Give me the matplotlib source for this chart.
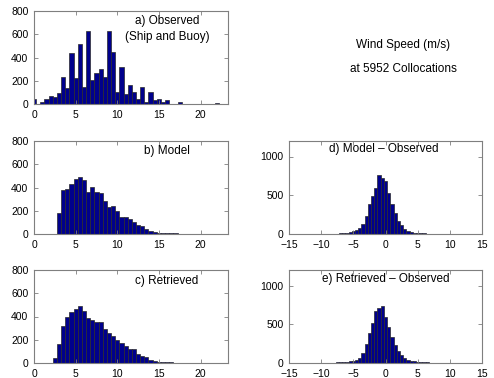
import numpy as np
import matplotlib
matplotlib.use("Agg")
import matplotlib.pyplot as plt

plt.rcParams['font.family'] = ['Liberation Sans', 'DejaVu Sans']

# ---- data (bin centres, counts) ----
obs_centers = [0.0, 0.5, 1.0, 1.5, 2.0, 2.5, 3.0, 3.5, 4.0, 4.5, 5.0, 5.5, 6.0, 6.5, 7.0, 7.5,
               8.0, 8.5, 9.0, 9.5, 10.0, 10.5, 11.0, 11.5, 12.0, 12.5, 13.0, 13.5, 14.0, 14.5,
               15.0, 15.5, 16.0, 16.5, 17.0, 17.5, 22.0]
obs_counts = [40, 0, 20, 40, 65, 60, 95, 230, 135, 435, 220, 515, 150, 630, 210, 265,
              300, 230, 625, 445, 100, 315, 90, 160, 105, 45, 150, 20, 105, 35,
              45, 15, 35, 0, 0, 15, 10]

model_centers = [3.0, 3.5, 4.0, 4.5, 5.0, 5.5, 6.0, 6.5, 7.0, 7.5, 8.0, 8.5, 9.0, 9.5, 10.0,
                 10.5, 11.0, 11.5, 12.0, 12.5, 13.0, 13.5, 14.0, 14.5, 15.0, 15.5, 16.0,
                 16.5, 17.0, 17.5, 18.0, 19.0, 20.0, 22.0]
model_counts = [180, 380, 386, 428, 474, 494, 466, 360, 403, 363, 351, 286, 231, 243, 200,
                146, 146, 131, 106, 77, 66, 43, 29, 20, 12, 10, 8,
                6, 5, 4, 2, 2, 2, 2]

retr_centers = [1.5, 2.0, 2.5, 3.0, 3.5, 4.0, 4.5, 5.0, 5.5, 6.0, 6.5, 7.0, 7.5, 8.0, 8.5,
                9.0, 9.5, 10.0, 10.5, 11.0, 11.5, 12.0, 12.5, 13.0, 13.5, 14.0, 14.5,
                15.0, 15.5, 16.0, 16.5, 17.0, 17.5, 18.5, 20.0, 22.0]
retr_counts = [3, 3, 43, 163, 314, 400, 437, 466, 494, 451, 386, 371, 349, 349, 294,
               254, 229, 200, 171, 143, 123, 123, 77, 63, 51, 26, 15,
               10, 8, 6, 5, 4, 3, 2, 2, 2]

dmo_centers = [-11.0, -10.0, -9.0, -8.5, -8.0, -7.5, -7.0, -6.5, -6.0, -5.5, -5.0, -4.5,
               -4.0, -3.5, -3.0, -2.5, -2.0, -1.5, -1.0, -0.5, 0.0, 0.5, 1.0, 1.5, 2.0,
               2.5, 3.0, 3.5, 4.0, 4.5, 5.0, 5.5, 6.0, 6.5, 7.0, 7.5, 8.0, 9.0, 10.0]
dmo_counts = [3, 4, 4, 5, 5, 6, 8, 10, 15, 22, 35, 52,
              75, 125, 230, 385, 490, 595, 760, 725, 690, 535, 385, 270, 170,
              110, 65, 40, 25, 18, 12, 10, 8, 6, 5, 4, 3, 3, 3]

dro_centers = [-12.0, -11.0, -10.0, -9.0, -8.5, -8.0, -7.5, -7.0, -6.5, -6.0, -5.5, -5.0,
               -4.5, -4.0, -3.5, -3.0, -2.5, -2.0, -1.5, -1.0, -0.5, 0.0, 0.5, 1.0, 1.5,
               2.0, 2.5, 3.0, 3.5, 4.0, 4.5, 5.0, 5.5, 6.0, 6.5, 7.0, 7.5, 8.0, 10.0]
dro_counts = [3, 3, 4, 4, 5, 6, 7, 9, 12, 15, 22, 32,
              45, 70, 125, 240, 390, 520, 670, 715, 730, 600, 470, 330, 230,
              150, 105, 70, 40, 30, 22, 15, 12, 10, 8, 6, 5, 4, 3]

bin_width = 0.5

W, H = 494, 378
fig = plt.figure(figsize=(W / 100, H / 100), dpi=100)

def ax_at(left, top, right, bottom):
    return fig.add_axes([left / W, 1 - bottom / H, (right - left) / W, (bottom - top) / H])

face = '#00008C'
edge = '#2a2a2a'
spine_c = '#7f7f7f'

def style(ax, xlim, ylim, xticks, yticks):
    ax.set_xlim(*xlim)
    ax.set_ylim(*ylim)
    ax.set_xticks(xticks)
    ax.set_yticks(yticks)
    for s in ax.spines.values():
        s.set_color(spine_c)
        s.set_linewidth(0.8)
    ax.tick_params(direction='in', length=3, width=0.6, color=spine_c,
                   labelsize=7.5, top=True, right=True, labelcolor='black')
    ax.tick_params(axis='x', pad=4.5)
    ax.tick_params(axis='y', pad=4)

def draw(ax, centers, counts):
    ax.bar(centers, counts, width=bin_width, color=face, edgecolor=edge, linewidth=0.5)

fs = 8.5

axa = ax_at(34, 11, 228, 104)
draw(axa, obs_centers, obs_counts)
style(axa, (0, 23.3), (0, 800), [0, 5, 10, 15, 20], [0, 200, 400, 600, 800])
axa.text(0.686, 0.89, 'a) Observed', transform=axa.transAxes, ha='center', va='center', fontsize=fs)
axa.text(0.686, 0.72, '(Ship and Buoy)', transform=axa.transAxes, ha='center', va='center', fontsize=fs)

axb = ax_at(34, 141, 228, 234)
draw(axb, model_centers, model_counts)
style(axb, (0, 23.3), (0, 800), [0, 5, 10, 15, 20], [0, 200, 400, 600, 800])
axb.text(0.686, 0.89, 'b) Model', transform=axb.transAxes, ha='center', va='center', fontsize=fs)

axc = ax_at(34, 270, 228, 363)
draw(axc, retr_centers, retr_counts)
style(axc, (0, 23.3), (0, 800), [0, 5, 10, 15, 20], [0, 200, 400, 600, 800])
axc.text(0.686, 0.88, 'c) Retrieved', transform=axc.transAxes, ha='center', va='center', fontsize=fs)

axd = ax_at(289, 141, 482, 234)
draw(axd, dmo_centers, dmo_counts)
style(axd, (-15, 15), (0, 1200), [-15, -10, -5, 0, 5, 10, 15], [0, 500, 1000])
axd.text(0.49, 0.915, 'd) Model \u2013 Observed', transform=axd.transAxes, ha='center', va='center', fontsize=fs)

axe = ax_at(289, 270, 482, 363)
draw(axe, dro_centers, dro_counts)
style(axe, (-15, 15), (0, 1200), [-15, -10, -5, 0, 5, 10, 15], [0, 500, 1000])
axe.text(0.50, 0.905, 'e) Retrieved \u2013 Observed', transform=axe.transAxes, ha='center', va='center', fontsize=fs)

fig.text(403 / W, 1 - 45 / H, 'Wind Speed (m/s)', ha='center', va='center', fontsize=fs)
fig.text(403 / W, 1 - 69 / H, 'at 5952 Collocations', ha='center', va='center', fontsize=fs)

fig.savefig('out.png', dpi=100)
